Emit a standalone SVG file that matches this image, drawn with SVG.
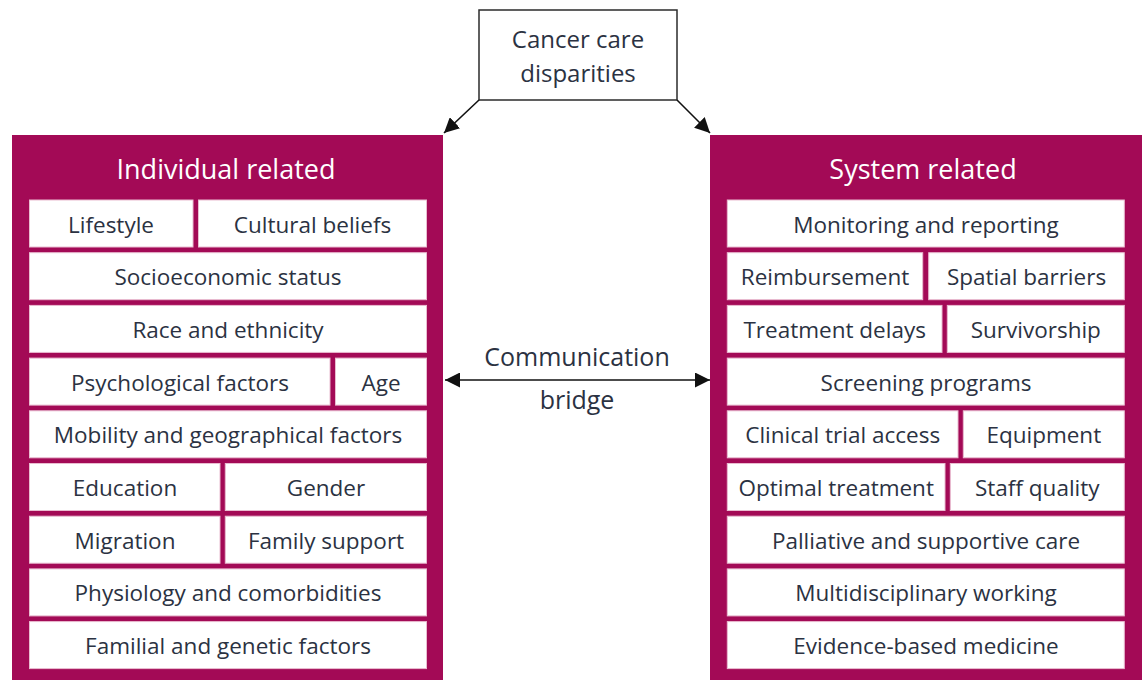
<svg xmlns="http://www.w3.org/2000/svg" width="1144" height="680" viewBox="0 0 1144 680">
  <style>
    .panel { fill: #a30a56; }
    .cell { fill: #ffffff; stroke: #e9bcd0; stroke-width: 1; }
    .hdr { font-family: "Open Sans", "Liberation Sans", sans-serif; font-size: 27px; fill: #ffffff; text-anchor: middle; }
    .lbl { font-family: "Open Sans", "Liberation Sans", sans-serif; font-size: 22.5px; fill: #2b3242; text-anchor: middle; }
    .top { font-family: "Open Sans", "Liberation Sans", sans-serif; font-size: 24px; fill: #2b3242; text-anchor: middle; }
    .mid { font-family: "Open Sans", "Liberation Sans", sans-serif; font-size: 25px; fill: #2b3242; text-anchor: middle; }
    .link { stroke: #111111; stroke-width: 1.6; fill: none; }
  </style>
  <defs>
    <marker id="headBig" viewBox="0 0 10 10" refX="10" refY="5" markerWidth="15" markerHeight="15" markerUnits="userSpaceOnUse" orient="auto-start-reverse">
      <path d="M0,0 L10,5 L0,10 z" fill="#111111"/>
    </marker>
  </defs>
  <rect width="1144" height="680" fill="#ffffff"/>

  <!-- root node -->
  <g id="node-root">
    <rect x="479" y="10" width="198" height="90" fill="#ffffff" stroke="#2b2b2b" stroke-width="1.5"/>
    <text class="top" x="578" y="48">Cancer care</text>
    <text class="top" x="578" y="82">disparities</text>
  </g>

  <!-- individual-related factors -->
  <g id="node-individual">
    <rect class="panel" x="12" y="135" width="431" height="545"/>
    <text class="hdr" x="226" y="179">Individual related</text>
    <rect class="cell" x="29.5" y="200" width="163.5" height="47"/>
    <text class="lbl" x="111" y="232.5">Lifestyle</text>
    <rect class="cell" x="198.5" y="200" width="228" height="47"/>
    <text class="lbl" x="312.5" y="232.5">Cultural beliefs</text>
    <rect class="cell" x="29.5" y="252.7" width="397" height="47"/>
    <text class="lbl" x="228" y="285.2">Socioeconomic status</text>
    <rect class="cell" x="29.5" y="305.4" width="397" height="47"/>
    <text class="lbl" x="228" y="337.9">Race and ethnicity</text>
    <rect class="cell" x="29.5" y="358.1" width="300.5" height="47"/>
    <text class="lbl" x="180" y="390.6">Psychological factors</text>
    <rect class="cell" x="335.5" y="358.1" width="91" height="47"/>
    <text class="lbl" x="381" y="390.6">Age</text>
    <rect class="cell" x="29.5" y="410.8" width="397" height="47"/>
    <text class="lbl" x="228" y="443.3">Mobility and geographical factors</text>
    <rect class="cell" x="29.5" y="463.5" width="190.5" height="47"/>
    <text class="lbl" x="125" y="496">Education</text>
    <rect class="cell" x="225.3" y="463.5" width="201.2" height="47"/>
    <text class="lbl" x="326" y="496">Gender</text>
    <rect class="cell" x="29.5" y="516.2" width="190.5" height="47"/>
    <text class="lbl" x="125" y="548.7">Migration</text>
    <rect class="cell" x="225.3" y="516.2" width="201.2" height="47"/>
    <text class="lbl" x="326" y="548.7">Family support</text>
    <rect class="cell" x="29.5" y="568.9" width="397" height="47"/>
    <text class="lbl" x="228" y="601.4">Physiology and comorbidities</text>
    <rect class="cell" x="29.5" y="621.6" width="397" height="47"/>
    <text class="lbl" x="228" y="654.1">Familial and genetic factors</text>
  </g>

  <!-- system-related factors -->
  <g id="node-system">
    <rect class="panel" x="710" y="135" width="432" height="545"/>
    <text class="hdr" x="923" y="179">System related</text>
    <rect class="cell" x="727.3" y="200" width="397" height="47"/>
    <text class="lbl" x="926" y="232.5">Monitoring and reporting</text>
    <rect class="cell" x="727.3" y="252.7" width="195.4" height="47"/>
    <text class="lbl" x="825" y="285.2">Reimbursement</text>
    <rect class="cell" x="928.7" y="252.7" width="195.6" height="47"/>
    <text class="lbl" x="1026.5" y="285.2">Spatial barriers</text>
    <rect class="cell" x="727.3" y="305.4" width="214.7" height="47"/>
    <text class="lbl" x="834.7" y="337.9">Treatment delays</text>
    <rect class="cell" x="947.3" y="305.4" width="177" height="47"/>
    <text class="lbl" x="1035.8" y="337.9">Survivorship</text>
    <rect class="cell" x="727.3" y="358.1" width="397" height="47"/>
    <text class="lbl" x="926" y="390.6">Screening programs</text>
    <rect class="cell" x="727.3" y="410.8" width="230.7" height="47"/>
    <text class="lbl" x="842.7" y="443.3">Clinical trial access</text>
    <rect class="cell" x="963.3" y="410.8" width="161" height="47"/>
    <text class="lbl" x="1043.8" y="443.3">Equipment</text>
    <rect class="cell" x="727.3" y="463.5" width="217.7" height="47"/>
    <text class="lbl" x="836.2" y="496">Optimal treatment</text>
    <rect class="cell" x="950.3" y="463.5" width="174" height="47"/>
    <text class="lbl" x="1037.3" y="496">Staff quality</text>
    <rect class="cell" x="727.3" y="516.2" width="397" height="47"/>
    <text class="lbl" x="926" y="548.7">Palliative and supportive care</text>
    <rect class="cell" x="727.3" y="568.9" width="397" height="47"/>
    <text class="lbl" x="926" y="601.4">Multidisciplinary working</text>
    <rect class="cell" x="727.3" y="621.6" width="397" height="47"/>
    <text class="lbl" x="926" y="654.1">Evidence-based medicine</text>
  </g>

  <!-- connectors -->
  <g id="connectors">
    <line class="link" x1="479" y1="100" x2="444" y2="133" marker-end="url(#headBig)"/>
    <line class="link" x1="677" y1="100" x2="710" y2="133" marker-end="url(#headBig)"/>
    <line class="link" x1="445" y1="380" x2="710" y2="380" marker-start="url(#headBig)" marker-end="url(#headBig)"/>
    <text class="mid" x="577" y="366">Communication</text>
    <text class="mid" x="577" y="409">bridge</text>
  </g>
</svg>
